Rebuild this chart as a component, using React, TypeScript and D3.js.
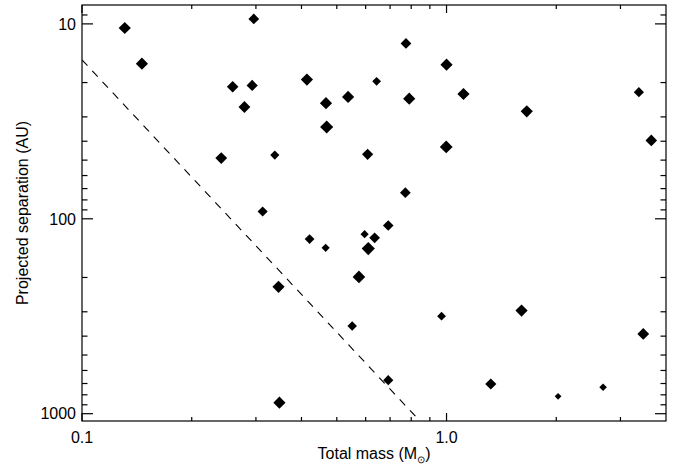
import React from "react";
import * as d3 from "d3";

// Total mass (Msun)
const masses = [
  0.131, 0.146, 0.296, 0.259, 0.293, 0.279, 0.241, 0.338, 0.313, 0.774,
  1.0, 0.414, 0.643, 0.467, 0.537, 0.79, 1.113, 0.469, 0.998, 0.6075,
  0.771, 1.66, 3.37, 3.645, 0.346, 0.348, 0.692, 0.421, 0.466, 0.596,
  0.635, 0.61, 0.575, 0.551, 0.969, 0.692, 1.606, 3.465, 1.3225, 2.023, 2.688,
];
// Projected separation (AU)
const separations = [
  10.5, 16.0, 9.43, 21.0, 20.7, 26.7, 48.8, 47.1, 91.7, 12.6,
  16.2, 19.3, 19.7, 25.5, 23.7, 24.2, 22.9, 33.8, 42.8, 46.7,
  73.5, 28.1, 22.4, 39.6, 223.5, 878, 108.2, 127.1, 140.9, 119.9,
  125.2, 142.1, 198.6, 354.5, 316, 673, 295.8, 389.7, 704, 814, 732,
];
// Relative symbol size (arbitrary units)
const symbolWeights = [
  1.0, 1.0, 0.88, 0.95, 0.92, 0.97, 0.97, 0.75, 0.83, 0.88,
  1.0, 1.0, 0.72, 1.0, 1.0, 1.0, 1.0, 1.08, 1.05, 0.92,
  0.88, 1.0, 0.83, 0.95, 1.0, 1.0, 0.87, 0.8, 0.67, 0.67,
  0.88, 1.08, 1.03, 0.78, 0.72, 0.83, 1.0, 0.97, 0.92, 0.55, 0.62,
];
// Dashed limit line endpoints [mass, separation]
const limitLine: [number, number][] = [
  [0.1, 15.3],
  [0.849, 1100],
];
const xMajorTicks = [0.1, 1.0];
const xMinorTicks = [0.2, 0.3, 0.4, 0.5, 0.6, 0.7, 0.8, 0.9, 2, 3];
const yMajorTicks = [10, 100, 1000];
const yMinorTicks = [9, 20, 30, 40, 50, 60, 70, 80, 90, 200, 300, 400, 500, 600, 700, 800, 900];

const W = 673;
const H = 470;
const L = 82, R = 666, T = 5, B = 421;
const FONT = "'Liberation Sans', Arial, Helvetica, sans-serif";

export default function App() {
  const x = d3.scaleLog().domain([0.1, 4]).range([L, R]);
  const y = d3.scaleLog().domain([8, 1090]).range([T, B]);
  const rScale = d3.scaleLinear().domain([0, 1]).range([0, 6.1]);

  const line = d3
    .line<[number, number]>()
    .x((d) => x(d[0]))
    .y((d) => y(d[1]));

  const diamond = (cx: number, cy: number, r: number) =>
    `M${cx},${cy - r}L${cx + r},${cy}L${cx},${cy + r}L${cx - r},${cy}Z`;

  const sw = 1.2;
  return (
    <svg width={W} height={H} style={{ position: "absolute", left: 0, top: 0, background: "#fff" }}>
      <defs>
        <clipPath id="plotclip">
          <rect x={L} y={T} width={R - L} height={B - T} />
        </clipPath>
      </defs>
      <rect x={0} y={0} width={W} height={H} fill="#fff" />
      {/* dashed limit line */}
      <path
        d={line(limitLine) || ""}
        fill="none"
        stroke="#000"
        strokeWidth={1.1}
        strokeDasharray="8,7"
        clipPath="url(#plotclip)"
      />
      {/* points */}
      <g fill="#000">
        {masses.map((m, i) => (
          <path key={i} d={diamond(x(m), y(separations[i]), rScale(symbolWeights[i]))} />
        ))}
      </g>
      {/* frame */}
      <rect x={L} y={T} width={R - L} height={B - T} fill="none" stroke="#000" strokeWidth={sw} />
      {/* ticks */}
      <g stroke="#000" strokeWidth={sw}>
        {yMajorTicks.map((t) => (
          <g key={"ym" + t}>
            <line x1={L} x2={L + 11} y1={y(t)} y2={y(t)} />
            <line x1={R} x2={R - 11} y1={y(t)} y2={y(t)} />
          </g>
        ))}
        {yMinorTicks.map((t) => (
          <g key={"yn" + t}>
            <line x1={L} x2={L + 5.5} y1={y(t)} y2={y(t)} />
            <line x1={R} x2={R - 5.5} y1={y(t)} y2={y(t)} />
          </g>
        ))}
        {xMajorTicks.map((t) => (
          <g key={"xm" + t}>
            <line x1={x(t)} x2={x(t)} y1={B} y2={B - 8} />
            <line x1={x(t)} x2={x(t)} y1={T} y2={T + 8} />
          </g>
        ))}
        {xMinorTicks.map((t) => (
          <g key={"xn" + t}>
            <line x1={x(t)} x2={x(t)} y1={B} y2={B - 4} />
            <line x1={x(t)} x2={x(t)} y1={T} y2={T + 4} />
          </g>
        ))}
      </g>
      {/* labels */}
      <g fontFamily={FONT} fontSize={16} fill="#000">
        {yMajorTicks.map((t) => (
          <text key={"yl" + t} x={L - 6} y={y(t)} dy="0.36em" textAnchor="end">
            {String(t)}
          </text>
        ))}
        {xMajorTicks.map((t) => (
          <text key={"xl" + t} x={x(t)} y={443} textAnchor="middle">
            {t.toFixed(1)}
          </text>
        ))}
        <text x={(L + R) / 2} y={458.5} textAnchor="middle">
          Total mass (M
          <tspan fontSize={10} dy={4}>⊙</tspan>
          <tspan dy={-4}>)</tspan>
        </text>
        <text transform={`translate(28,${(T + B) / 2}) rotate(-90)`} textAnchor="middle">
          Projected separation (AU)
        </text>
      </g>
    </svg>
  );
}
